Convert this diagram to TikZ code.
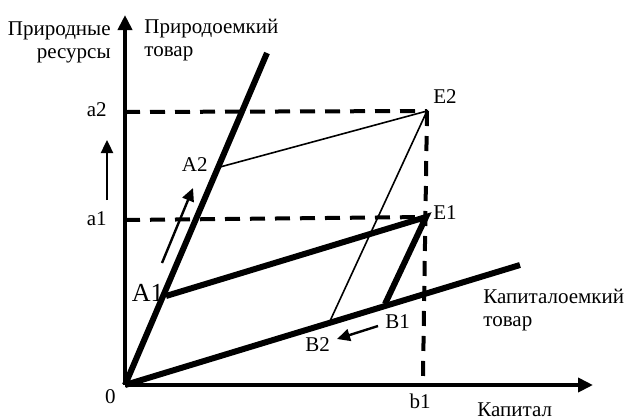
\documentclass[tikz,border=0pt]{standalone}
\usepackage{fontspec}
\setmainfont{Liberation Serif}
\usetikzlibrary{arrows.meta}
\begin{document}
\begin{tikzpicture}[x=0.5pt,y=-0.5pt,
    thickline/.style={line width=3pt},
    thinline/.style={line width=0.8pt},
    axisline/.style={line width=2pt,-{Triangle[length=7.5pt,width=7pt]}},
    shiftarrow/.style={line width=1.2pt,-{Triangle[length=6.5pt,width=6pt]}},
    guide/.style={line width=2pt,dash pattern=on 7.5pt off 5pt},
    lbl/.style={font=\fontsize{10.5}{11.5}\selectfont,inner sep=0pt}]
    \useasboundingbox (0,0) rectangle (626,419);

    % points
    \coordinate (O) at (125,385);
    \coordinate (ytop) at (125,15);
    \coordinate (xend) at (593,385);
    \coordinate (atop) at (267,53);
    \coordinate (bend) at (520,265);
    \coordinate (A1) at (166,296);
    \coordinate (A2) at (220,167);
    \coordinate (B1) at (385,304);
    \coordinate (B2) at (330,321);
    \coordinate (E1) at (426,217);
    \coordinate (E2) at (427,111);
    \coordinate (a1) at (125,220);
    \coordinate (a2) at (125,112);
    \coordinate (b1) at (423,376);

    % axes
    \draw[axisline] (O) -- (ytop);
    \draw[axisline] (O) -- (xend);

    % dashed levels
    \draw[guide] (a2) -- (E2);
    \draw[guide] (a1) -- (E1);
    \draw[guide] (E2) -- (b1);

    % goods rays
    \draw[thickline] (O) -- (atop);
    \draw[thickline] (O) -- (bend);
    \draw[thickline] (A1) -- (E1) -- (B1);
    \draw[thinline] (A2) -- (E2) -- (B2);

    % shift arrows
    \coordinate (s1) at (107,200);
    \coordinate (s1e) at (107,140);
    \coordinate (s2) at (162,263);
    \coordinate (s2e) at (193,188);
    \coordinate (s3) at (378,326);
    \coordinate (s3e) at (337,339);
    \draw[shiftarrow] (s1) -- (s1e);
    \draw[shiftarrow] (s2) -- (s2e);
    \draw[shiftarrow] (s3) -- (s3e);

    % labels
    \node[lbl,align=right,anchor=east] (ylbl) at (111,42) {Природные\\ресурсы};
    \node[lbl,align=left,anchor=west] (plbl) at (144,40) {Природоемкий\\товар};
    \node[lbl,align=left,anchor=west] (klbl) at (483,310) {Капиталоемкий\\товар};
    \node[lbl,anchor=base west] (xlbl) at (477,416) {Капитал};
    \node[lbl,anchor=east] (a2lbl) at (107,110) {a2};
    \node[lbl,anchor=east] (a1lbl) at (107,219) {a1};
    \node[lbl,anchor=east] (olbl) at (116,397) {0};
    \node[lbl,anchor=north] (b1lbl) at (420,394) {b1};
    \node[lbl,font=\fontsize{13}{15}\selectfont,anchor=east] (A1lbl) at (164,293) {A1};
    \node[lbl,anchor=east] (A2lbl) at (208,165) {A2};
    \node[lbl,anchor=west] (E2lbl) at (433,97) {E2};
    \node[lbl,anchor=west] (E1lbl) at (433,213) {E1};
    \node[lbl,anchor=west] (B1lbl) at (385,322) {B1};
    \node[lbl,anchor=west] (B2lbl) at (305,345) {B2};
\end{tikzpicture}
\end{document}
